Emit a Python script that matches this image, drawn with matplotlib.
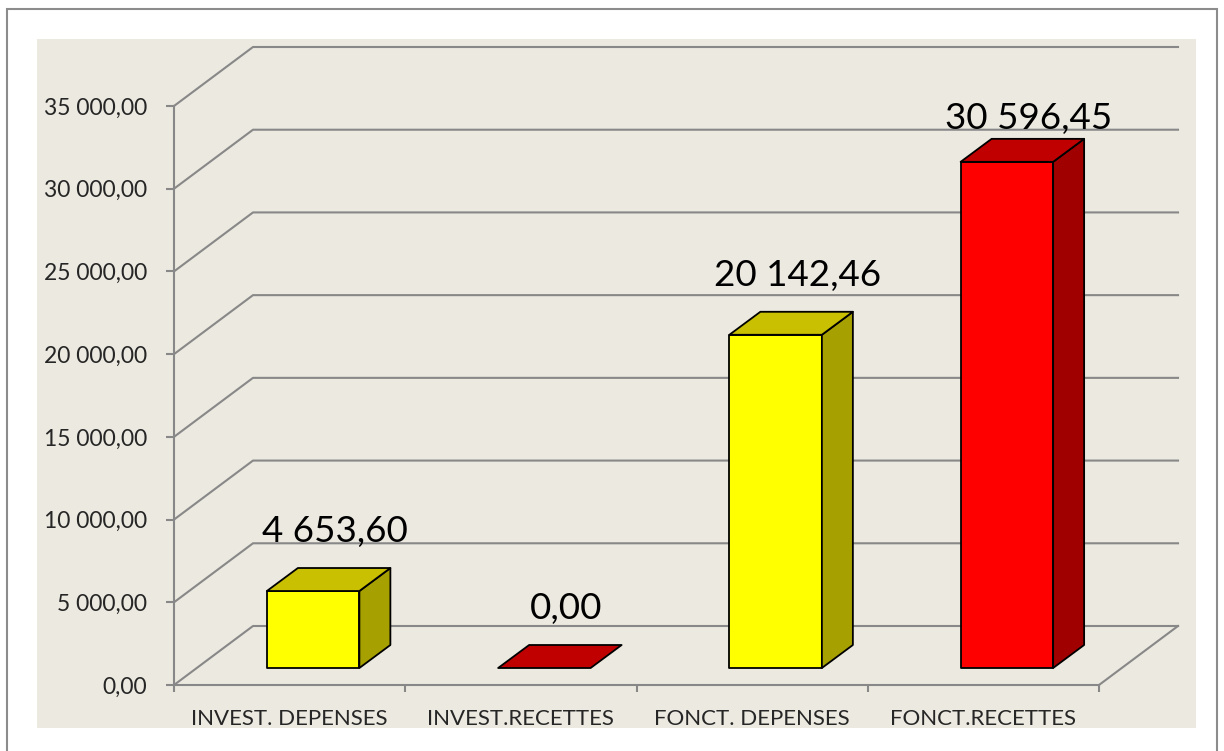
import matplotlib
matplotlib.use("Agg")
import matplotlib.pyplot as plt
import numpy as np
from matplotlib.patches import Rectangle, Polygon
from matplotlib.lines import Line2D
from matplotlib.transforms import IdentityTransform

categories = ["INVEST. DEPENSES", "INVEST.RECETTES", "FONCT. DEPENSES", "FONCT.RECETTES"]
values = [4653.60, 0.00, 20142.46, 30596.45]
front_colors = ["#FFFF00", "#FF0000", "#FFFF00", "#FF0000"]
top_colors = ["#C8C000", "#C00000", "#C8C000", "#C00000"]
side_colors = ["#A6A000", "#A00000", "#A6A000", "#A00000"]
yticks = [0, 5000, 10000, 15000, 20000, 25000, 30000, 35000]

def fmt(v):
    return f"{v:,.2f}".replace(",", " ").replace(".", ",")

plt.rcParams["font.family"] = ["Lato", "DejaVu Sans"]
W, H = 1224, 751
fig = plt.figure(figsize=(W / 100, H / 100), dpi=100)
fig.patch.set_facecolor("white")

def fx(px):
    return px / W

def fy(py):
    return (H - py) / H

# outer border and plot area background
fig.patches.append(Rectangle((fx(7), fy(760)), fx(1217) - fx(7), fy(9) - fy(760),
                             transform=fig.transFigure, facecolor="white",
                             edgecolor="#8C8C8C", linewidth=1.5, zorder=-2))
fig.patches.append(Rectangle((fx(37), fy(728)), fx(1196) - fx(37), fy(39) - fy(728),
                             transform=fig.transFigure, facecolor="#ECE9E0",
                             edgecolor="none", zorder=-1))

ax = fig.add_axes([fx(174), fy(685), fx(1099) - fx(174), fy(106) - fy(685)])
ax.set_zorder(2)
ax.patch.set_visible(False)
n = len(categories)
ax.set_xlim(-0.5, n - 0.5)
ax.set_ylim(0, 35000)

grid_c = "#888888"
for s in ["top", "right"]:
    ax.spines[s].set_visible(False)
for s in ["left", "bottom"]:
    ax.spines[s].set_color(grid_c)
    ax.spines[s].set_linewidth(1.5)

ax.set_yticks(yticks)
ax.set_yticklabels([fmt(v) for v in yticks])
ax.tick_params(axis="y", length=5.8, width=1.5, color=grid_c, pad=13.5,
               labelsize=16.5, labelcolor="#262626")
ax.set_xticks(np.arange(-0.5, n, 1.0))
ax.set_xticklabels([])
ax.tick_params(axis="x", which="major", length=5, width=1.5, color=grid_c)
ax.set_xticks(np.arange(n), minor=True)
ax.set_xticklabels(categories, minor=True)
ax.tick_params(axis="x", which="minor", length=0, pad=17.5, labelsize=16,
               labelcolor="#262626")

fig.canvas.draw()
T = ax.transData
ident = IdentityTransform()

D = np.array([79.0, 59.0])          # full depth (display px)
F = np.array([23.5, 17.0])          # bar front offset
B = np.array([54.5, 40.0])          # bar back offset

def disp(x, y, off):
    return T.transform((x, y)) + off

# back wall gridlines, side wall and floor
for v in yticks:
    p0 = disp(-0.5, v, np.zeros(2))
    p1 = disp(-0.5, v, D)
    p2 = disp(n - 0.5, v, D)
    ax.add_line(Line2D([p0[0], p1[0], p2[0]], [p0[1], p1[1], p2[1]],
                       transform=ident, color=grid_c, lw=1.5, clip_on=False, zorder=1))
q0 = disp(n - 0.5, 0, np.zeros(2))
q1 = disp(n - 0.5, 0, D)
ax.add_line(Line2D([q0[0], q1[0]], [q0[1], q1[1]], transform=ident, color=grid_c,
                   lw=1.5, clip_on=False, zorder=1))

bw = 0.4
for i, v in enumerate(values):
    xl, xr = i - bw / 2, i + bw / 2
    fl0 = disp(xl, 0, F); fr0 = disp(xr, 0, F)
    flt = disp(xl, v, F); frt = disp(xr, v, F)
    blt = disp(xl, v, B); brt = disp(xr, v, B); br0 = disp(xr, 0, B)
    kw = dict(transform=ident, edgecolor="black", linewidth=1.3, clip_on=False,
              joinstyle="round", zorder=3)
    if v > 0:
        ax.add_patch(Polygon([fl0, fr0, frt, flt], facecolor=front_colors[i], **kw))
        ax.add_patch(Polygon([fr0, br0, brt, frt], facecolor=side_colors[i], **kw))
    ax.add_patch(Polygon([flt, frt, brt, blt], facecolor=top_colors[i], **kw))
    mid = disp(i, v, (F + B) / 2)
    ly = mid[1] + 48
    ytop = T.transform((0, 35000))[1] - 12
    ly = min(ly, ytop)
    ax.text(mid[0] + 6, ly, fmt(v), transform=ident, ha="center", va="center",
            fontsize=26.5, color="black", zorder=4)

fig.savefig("out.png", dpi=100)
